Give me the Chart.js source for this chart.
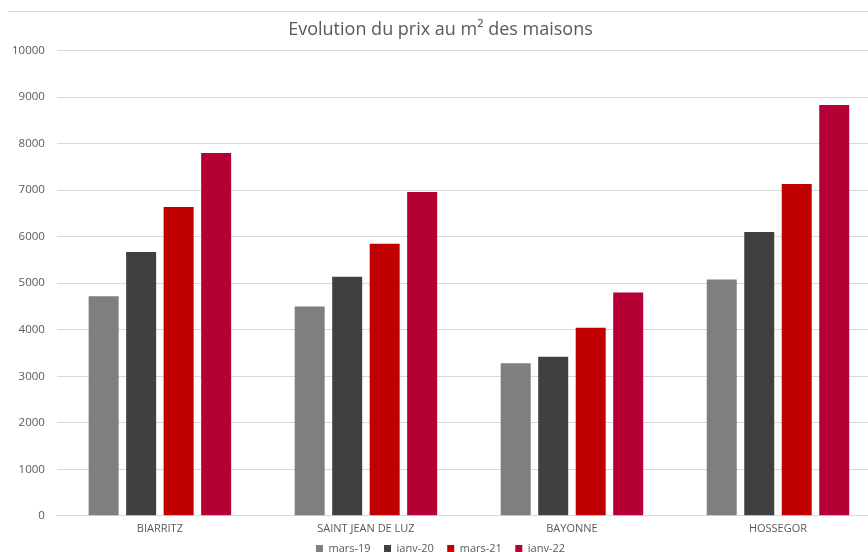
<!DOCTYPE html>
<html>
<head>
<meta charset="utf-8">
<script src="https://cdn.jsdelivr.net/npm/chart.js@4"></script>
<style>
  html, body { margin: 0; padding: 0; background: #fff; }
  .wrap { position: relative; width: 868px; height: 552px; overflow: hidden; }
  .frame { position: absolute; top: 11px; left: 8px; right: 0; border-top: 1px solid #d9d9d9; }
  .box { position: absolute; top: 0; left: 0; width: 890px; height: 564px; }
</style>
</head>
<body>
<div class="wrap">
  <div class="frame"></div>
  <div class="box"><canvas id="chart" width="890" height="564"></canvas></div>
</div>
<script>
const villes = ["BIARRITZ", "SAINT JEAN DE LUZ", "BAYONNE", "HOSSEGOR"];
const mars19 = [4720, 4500, 3280, 5080];
const janv20 = [5670, 5140, 3420, 6100];
const mars21 = [6640, 5850, 4040, 7130];
const janv22 = [7800, 6960, 4800, 8830];

const series = [
  { label: "mars-19", data: mars19, color: "#7f7f7f" },
  { label: "janv-20", data: janv20, color: "#404040" },
  { label: "mars-21", data: mars21, color: "#c00000" },
  { label: "janv-22", data: janv22, color: "#b40034" },
];

const textColor = "#595959";
const gridColor = "#d9d9d9";

const ctx = document.getElementById("chart").getContext("2d");
new Chart(ctx, {
  type: "bar",
  data: {
    labels: villes,
    datasets: series.map((s) => ({
      label: s.label,
      data: s.data,
      backgroundColor: s.color,
      borderWidth: 0,
      categoryPercentage: 0.728,
      barPercentage: 0.8,
    })),
  },
  options: {
    responsive: false,
    animation: false,
    layout: { padding: { left: 0, right: 9, top: 0, bottom: 0 } },
    plugins: {
      title: {
        display: true,
        text: "Evolution du prix au m² des maisons",
        color: textColor,
        font: { family: "Open Sans", size: 18, weight: "normal" },
        padding: { top: 19, bottom: 10 },
      },
      legend: {
        position: "bottom",
        labels: {
          color: textColor,
          font: { family: "Open Sans", size: 11 },
          boxWidth: 7,
          boxHeight: 7,
          padding: 2,
          // small padding keeps the legend low; spaces give the gaps between items
          generateLabels: (chart) => {
            const items = Chart.defaults.plugins.legend.labels.generateLabels(chart);
            items.forEach((it, i) => {
              if (i < items.length - 1) it.text += "    ";
              it.lineWidth = 0;
            });
            return items;
          },
        },
      },
      tooltip: { enabled: false },
    },
    scales: {
      x: {
        grid: { display: false, drawTicks: false },
        border: { color: gridColor },
        ticks: {
          color: textColor,
          font: { family: "Open Sans", size: 11 },
          padding: 6,
        },
      },
      y: {
        min: 0,
        max: 10000,
        grid: { color: gridColor, drawTicks: false },
        border: { display: false },
        ticks: {
          stepSize: 1000,
          color: textColor,
          font: { family: "Open Sans", size: 11.5 },
          padding: 12,
          callback: (v) => String(v),
        },
      },
    },
  },
});
</script>
</body>
</html>
